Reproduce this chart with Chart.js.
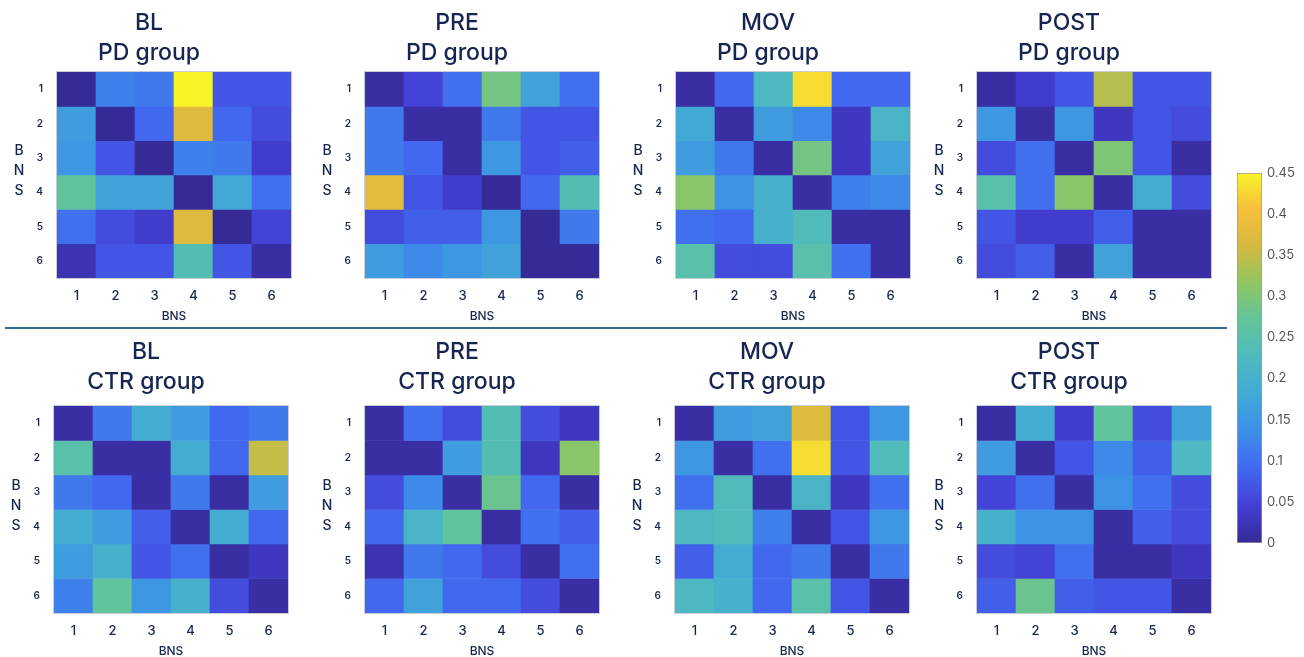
<!DOCTYPE html>
<html>
<head>
<meta charset="utf-8">
<script src="https://cdn.jsdelivr.net/npm/chart.js@4.4.1/dist/chart.umd.min.js"></script>
<style>
  html, body { margin: 0; padding: 0; background: #fff; overflow: hidden; }
  body { width: 1304px; height: 657px; position: relative; }
  canvas { position: absolute; }
  #divider { position: absolute; left: 5px; top: 327px; width: 1222px; height: 2px; background: #2e6e94; }
</style>
</head>
<body>
<div id="divider"></div>
<script>
// axis labels
const bnsLabels = ['1', '2', '3', '4', '5', '6'];
const rowIndex = [1, 2, 3, 4, 5, 6];
const axisTitle = 'BNS';
const colorbarTicks = [0, 0.05, 0.1, 0.15, 0.2, 0.25, 0.3, 0.35, 0.4, 0.45];
const colorMin = 0;
const colorMax = 0.45;

// panel titles
const panelTitles = [
    ['BL', 'PD group'], ['PRE', 'PD group'], ['MOV', 'PD group'], ['POST', 'PD group'],
    ['BL', 'CTR group'], ['PRE', 'CTR group'], ['MOV', 'CTR group'], ['POST', 'CTR group']
];

// matrices, one row per BNS (top to bottom), columns BNS 1..6
const blPD = [
    [0.00, 0.12, 0.11, 0.45, 0.07, 0.07],
    [0.16, 0.00, 0.09, 0.37, 0.09, 0.06],
    [0.15, 0.07, 0.00, 0.12, 0.11, 0.04],
    [0.27, 0.17, 0.17, 0.00, 0.18, 0.10],
    [0.10, 0.06, 0.04, 0.37, 0.00, 0.05],
    [0.02, 0.07, 0.07, 0.24, 0.07, 0.01]
];
const prePD = [
    [0.01, 0.05, 0.10, 0.29, 0.17, 0.10],
    [0.11, 0.01, 0.01, 0.11, 0.07, 0.07],
    [0.11, 0.09, 0.01, 0.15, 0.07, 0.08],
    [0.38, 0.07, 0.04, 0.00, 0.09, 0.24],
    [0.06, 0.08, 0.08, 0.15, 0.00, 0.11],
    [0.16, 0.13, 0.15, 0.17, 0.00, 0.00]
];
const movPD = [
    [0.01, 0.09, 0.22, 0.43, 0.09, 0.09],
    [0.18, 0.01, 0.16, 0.13, 0.03, 0.21],
    [0.16, 0.11, 0.01, 0.29, 0.03, 0.17],
    [0.31, 0.14, 0.20, 0.01, 0.12, 0.13],
    [0.10, 0.09, 0.20, 0.23, 0.01, 0.01],
    [0.25, 0.06, 0.06, 0.25, 0.10, 0.01]
];
const postPD = [
    [0.01, 0.04, 0.07, 0.34, 0.07, 0.07],
    [0.15, 0.01, 0.15, 0.03, 0.07, 0.06],
    [0.06, 0.10, 0.01, 0.30, 0.07, 0.01],
    [0.25, 0.10, 0.31, 0.01, 0.19, 0.06],
    [0.07, 0.04, 0.04, 0.08, 0.01, 0.01],
    [0.06, 0.08, 0.01, 0.17, 0.01, 0.01]
];
const blCTR = [
    [0.01, 0.11, 0.19, 0.16, 0.09, 0.11],
    [0.25, 0.01, 0.01, 0.19, 0.09, 0.35],
    [0.11, 0.09, 0.01, 0.11, 0.01, 0.16],
    [0.19, 0.16, 0.08, 0.01, 0.19, 0.09],
    [0.16, 0.20, 0.07, 0.10, 0.01, 0.03],
    [0.12, 0.27, 0.15, 0.20, 0.06, 0.01]
];
const preCTR = [
    [0.01, 0.10, 0.06, 0.24, 0.06, 0.03],
    [0.01, 0.01, 0.16, 0.24, 0.03, 0.31],
    [0.06, 0.13, 0.01, 0.28, 0.09, 0.01],
    [0.09, 0.21, 0.27, 0.01, 0.10, 0.08],
    [0.02, 0.11, 0.09, 0.06, 0.01, 0.10],
    [0.09, 0.17, 0.09, 0.09, 0.06, 0.01]
];
const movCTR = [
    [0.01, 0.16, 0.17, 0.37, 0.07, 0.15],
    [0.15, 0.01, 0.10, 0.43, 0.07, 0.23],
    [0.10, 0.23, 0.01, 0.21, 0.03, 0.10],
    [0.22, 0.23, 0.12, 0.01, 0.07, 0.15],
    [0.08, 0.19, 0.09, 0.11, 0.01, 0.11],
    [0.22, 0.20, 0.09, 0.25, 0.07, 0.01]
];
const postCTR = [
    [0.01, 0.19, 0.04, 0.27, 0.06, 0.17],
    [0.16, 0.01, 0.07, 0.13, 0.08, 0.22],
    [0.05, 0.10, 0.01, 0.14, 0.10, 0.06],
    [0.20, 0.14, 0.14, 0.01, 0.08, 0.06],
    [0.06, 0.05, 0.10, 0.01, 0.01, 0.03],
    [0.08, 0.28, 0.08, 0.07, 0.07, 0.01]
];
const panelValues = [blPD, prePD, movPD, postPD, blCTR, preCTR, movCTR, postCTR];

// layout (pixels)
const plotLefts = [57, 365, 676, 977, 54, 365, 675, 977];
const rowTops = [0, 330];
const plotWidth = 234;

// parula-like colour map
const cmap = [
    [54, 42, 150], [68, 62, 212], [66, 104, 240], [60, 142, 232], [66, 168, 214],
    [78, 186, 190], [96, 196, 156], [142, 198, 100], [212, 186, 64], [246, 190, 60],
    [248, 244, 40]
];
const navy = '#172550';
const fontFamily = 'Inter, Roboto, "DejaVu Sans", sans-serif';

function colorFor(v) {
    let t = (v - colorMin) / (colorMax - colorMin);
    t = Math.max(0, Math.min(1, t));
    const n = cmap.length - 1;
    const i = Math.min(Math.floor(t * n), n - 1);
    const f = t * n - i;
    const c = cmap[i].map((a, k) => Math.round(a + (cmap[i + 1][k] - a) * f));
    return `rgb(${c[0]}, ${c[1]}, ${c[2]})`;
}

// stacked "B N S" on the left of each matrix + thin frame
const sideTitle = {
    id: 'sideTitle',
    afterDraw(chart) {
        const { ctx, chartArea } = chart;
        ctx.save();
        ctx.strokeStyle = '#c9ccd6';
        ctx.lineWidth = 1;
        ctx.strokeRect(chartArea.left - 0.5, chartArea.top - 0.5, chartArea.width + 1, chartArea.height + 1);
        ctx.fillStyle = navy;
        ctx.font = `500 14px ${fontFamily}`;
        ctx.textAlign = 'center';
        ctx.textBaseline = 'middle';
        const mid = (chartArea.top + chartArea.bottom) / 2 - 4;
        axisTitle.split('').forEach((ch, i) => {
            ctx.fillText(ch, chartArea.left - 38, mid + (i - 1) * 20);
        });
        ctx.restore();
    }
};

function makePanel(idx) {
    const row = idx < 4 ? 0 : 1;
    const values = panelValues[idx];
    const titlePad = row === 0 ? { top: 8, bottom: 4 } : { top: 7, bottom: 9 };
    const plotHeight = row === 0 ? 206 : 207;
    const axisHeight = 47;
    const yAxisWidth = 50;
    const rightPad = 34; // puts the centred title a little left of the matrix centre

    const canvas = document.createElement('canvas');
    canvas.width = yAxisWidth + plotWidth + rightPad;
    canvas.height = titlePad.top + 60 + titlePad.bottom + plotHeight + axisHeight;
    canvas.style.left = (plotLefts[idx] - yAxisWidth) + 'px';
    canvas.style.top = rowTops[row] + 'px';
    document.body.appendChild(canvas);

    const datasets = rowIndex.map((r, ri) => ({
        data: bnsLabels.map(() => [r - 0.5, r + 0.5]),
        backgroundColor: values[ri].map(colorFor),
        borderWidth: 0,
        grouped: false,
        barPercentage: 1,
        categoryPercentage: 1
    }));

    new Chart(canvas, {
        type: 'bar',
        data: { labels: bnsLabels, datasets },
        options: {
            responsive: false,
            devicePixelRatio: 1,
            animation: false,
            layout: { padding: { left: 0, right: rightPad, top: 0, bottom: 0 } },
            plugins: {
                legend: { display: false },
                tooltip: { enabled: false },
                title: {
                    display: true,
                    text: panelTitles[idx],
                    color: navy,
                    font: { family: fontFamily, size: 23, weight: '500', lineHeight: '30px' },
                    padding: titlePad
                }
            },
            scales: {
                x: {
                    grid: { display: false, drawTicks: false },
                    border: { display: false },
                    ticks: {
                        color: navy,
                        padding: 10,
                        font: { family: fontFamily, size: 13, weight: '500' }
                    },
                    title: {
                        display: true,
                        text: axisTitle,
                        color: navy,
                        font: { family: fontFamily, size: 12, weight: '500' },
                        padding: { top: 0, bottom: 1 }
                    },
                    afterFit: s => { s.height = axisHeight; }
                },
                y: {
                    type: 'linear',
                    min: 0.5,
                    max: 6.5,
                    reverse: true,
                    grid: { display: false, drawTicks: false },
                    border: { display: false },
                    afterBuildTicks: axis => { axis.ticks = rowIndex.map(v => ({ value: v })); },
                    ticks: {
                        color: navy,
                        padding: 14,
                        font: { family: fontFamily, size: 10, weight: '600' }
                    },
                    afterFit: s => { s.width = yAxisWidth; }
                }
            }
        },
        plugins: [sideTitle]
    });
}

function makeColorbar() {
    const canvas = document.createElement('canvas');
    canvas.width = 80;
    canvas.height = 400;
    canvas.style.left = '1225px';
    canvas.style.top = '160px';
    document.body.appendChild(canvas);

    new Chart(canvas, {
        type: 'bar',
        data: {
            labels: [''],
            datasets: [{
                data: [[colorMin, colorMax]],
                backgroundColor: (c) => {
                    const { ctx, chartArea } = c.chart;
                    if (!chartArea) return colorFor(colorMin);
                    const g = ctx.createLinearGradient(0, chartArea.bottom, 0, chartArea.top);
                    cmap.forEach((col, i) => g.addColorStop(i / (cmap.length - 1), `rgb(${col.join(',')})`));
                    return g;
                },
                borderColor: '#9a9a9a',
                borderWidth: 1,
                borderSkipped: false,
                barPercentage: 1,
                categoryPercentage: 1
            }]
        },
        options: {
            responsive: false,
            devicePixelRatio: 1,
            animation: false,
            layout: { padding: { left: 12, right: 0, top: 13, bottom: 17 } },
            plugins: { legend: { display: false }, tooltip: { enabled: false } },
            scales: {
                x: { display: false },
                y: {
                    position: 'right',
                    min: colorMin,
                    max: colorMax,
                    grid: { display: false, drawTicks: false },
                    border: { display: false },
                    afterBuildTicks: axis => { axis.ticks = colorbarTicks.map(v => ({ value: v })); },
                    ticks: {
                        color: '#555',
                        padding: 5,
                        font: { family: fontFamily, size: 13 },
                        callback: v => String(+Number(v).toFixed(2))
                    },
                    afterFit: s => { s.width = 43; }
                }
            }
        }
    });
}

panelValues.forEach((_, i) => makePanel(i));
makeColorbar();
</script>
</body>
</html>
